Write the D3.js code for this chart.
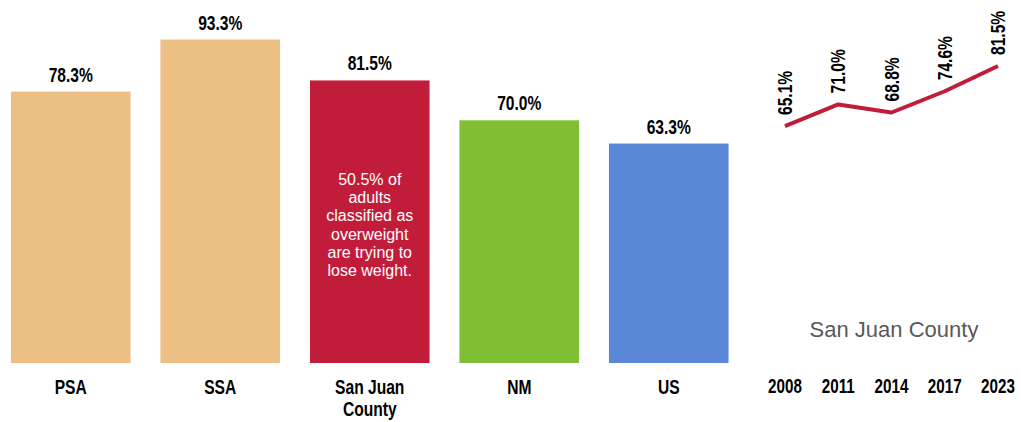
<!DOCTYPE html>
<html>
<head>
<meta charset="utf-8">
<script src="https://cdn.jsdelivr.net/npm/d3@7"></script>
<style>
  body { margin: 0; background: white; }
  svg { display: block; }
</style>
</head>
<body>
<div id="container"></div>
<script>
const w = 1021, h = 422

// bar data
const categories = ["PSA", "SSA", "San Juan County", "NM", "US"]
const values = [78.3, 93.3, 81.5, 70.0, 63.3]
const colors = ["#ECC084", "#ECC084", "#C11C3A", "#80BF33", "#5B87D7"]
const noteLines = ["50.5% of", "adults", "classified as", "overweight", "are trying to", "lose weight."]

// trend data (San Juan County)
const years = ["2008", "2011", "2014", "2017", "2023"]
const trend = [65.1, 71.0, 68.8, 74.6, 81.5]

// no narrow font installed, so squeeze bold Liberation Sans horizontally
const bold = "'Liberation Sans', Arial, sans-serif"
const squeeze = 0.78

const svg = d3.select("#container").append("svg").attr("width", w).attr("height", h)

const x = d3.scaleBand().domain(categories).range([-4, 743.5]).paddingInner(0.2).paddingOuter(0.1)
const y = d3.scaleLinear().domain([0, 100]).range([363, 16.3])

svg.selectAll("rect.bar")
    .data(categories)
    .enter()
    .append("rect")
    .attr("class", "bar")
    .attr("x", d => x(d))
    .attr("width", x.bandwidth())
    .attr("y", (d, i) => y(values[i]))
    .attr("height", (d, i) => y(0) - y(values[i]))
    .attr("fill", (d, i) => colors[i])

svg.selectAll("text.val")
    .data(categories)
    .enter()
    .append("text")
    .attr("class", "val")
    .attr("transform", (d, i) => `translate(${x(d) + x.bandwidth() / 2}, ${y(values[i]) - 10}) scale(${squeeze}, 1)`)
    .attr("text-anchor", "middle")
    .attr("font-family", bold)
    .attr("font-weight", "bold")
    .attr("font-size", 20)
    .attr("fill", "#000")
    .text((d, i) => values[i].toFixed(1) + "%")

// category labels, San Juan County wraps to two lines
const catLabels = svg.selectAll("text.cat")
    .data(categories)
    .enter()
    .append("text")
    .attr("class", "cat")
    .attr("transform", d => `translate(${x(d) + x.bandwidth() / 2}, 0) scale(${squeeze}, 1)`)
    .attr("text-anchor", "middle")
    .attr("font-family", bold)
    .attr("font-weight", "bold")
    .attr("font-size", 20)
    .attr("fill", "#000")
catLabels.each(function (d) {
    const parts = d === "San Juan County" ? ["San Juan", "County"] : [d]
    d3.select(this).selectAll("tspan").data(parts).enter().append("tspan")
        .attr("x", 0)
        .attr("y", (p, j) => 394.5 + j * 21.5)
        .text(p => p)
})

// note inside San Juan County bar
const sj = "San Juan County"
svg.append("text")
    .attr("text-anchor", "middle")
    .attr("font-family", "'Liberation Sans', Arial, sans-serif")
    .attr("font-size", 16)
    .attr("fill", "#fff")
    .selectAll("tspan")
    .data(noteLines)
    .enter()
    .append("tspan")
    .attr("x", x(sj) + x.bandwidth() / 2)
    .attr("y", (d, i) => 185 + i * 18.2)
    .text(d => d)

// trend line
const lx = d3.scalePoint().domain(years).range([785, 998])
const ly = d3.scaleLinear().domain([0, 100]).range([364.3, -1.7])

svg.append("path")
    .datum(trend)
    .attr("fill", "none")
    .attr("stroke", "#C11C3A")
    .attr("stroke-width", 4)
    .attr("stroke-linejoin", "round")
    .attr("d", d3.line().x((d, i) => lx(years[i])).y(d => ly(d)))

svg.selectAll("text.tval")
    .data(trend)
    .enter()
    .append("text")
    .attr("class", "tval")
    .attr("transform", (d, i) => `translate(${lx(years[i]) + 7}, ${ly(d) - 11}) rotate(-90) scale(${squeeze}, 1)`)
    .attr("font-family", bold)
    .attr("font-weight", "bold")
    .attr("font-size", 20)
    .attr("fill", "#000")
    .text(d => d.toFixed(1) + "%")

svg.selectAll("text.year")
    .data(years)
    .enter()
    .append("text")
    .attr("class", "year")
    .attr("transform", d => `translate(${lx(d)}, 393) scale(${squeeze}, 1)`)
    .attr("text-anchor", "middle")
    .attr("font-family", bold)
    .attr("font-weight", "bold")
    .attr("font-size", 19.5)
    .attr("fill", "#000")
    .text(d => d)

svg.append("text")
    .attr("x", 894)
    .attr("y", 337)
    .attr("text-anchor", "middle")
    .attr("font-family", "'Liberation Sans', Arial, sans-serif")
    .attr("font-size", 22)
    .attr("fill", "#595959")
    .text("San Juan County")
</script>
</body>
</html>
